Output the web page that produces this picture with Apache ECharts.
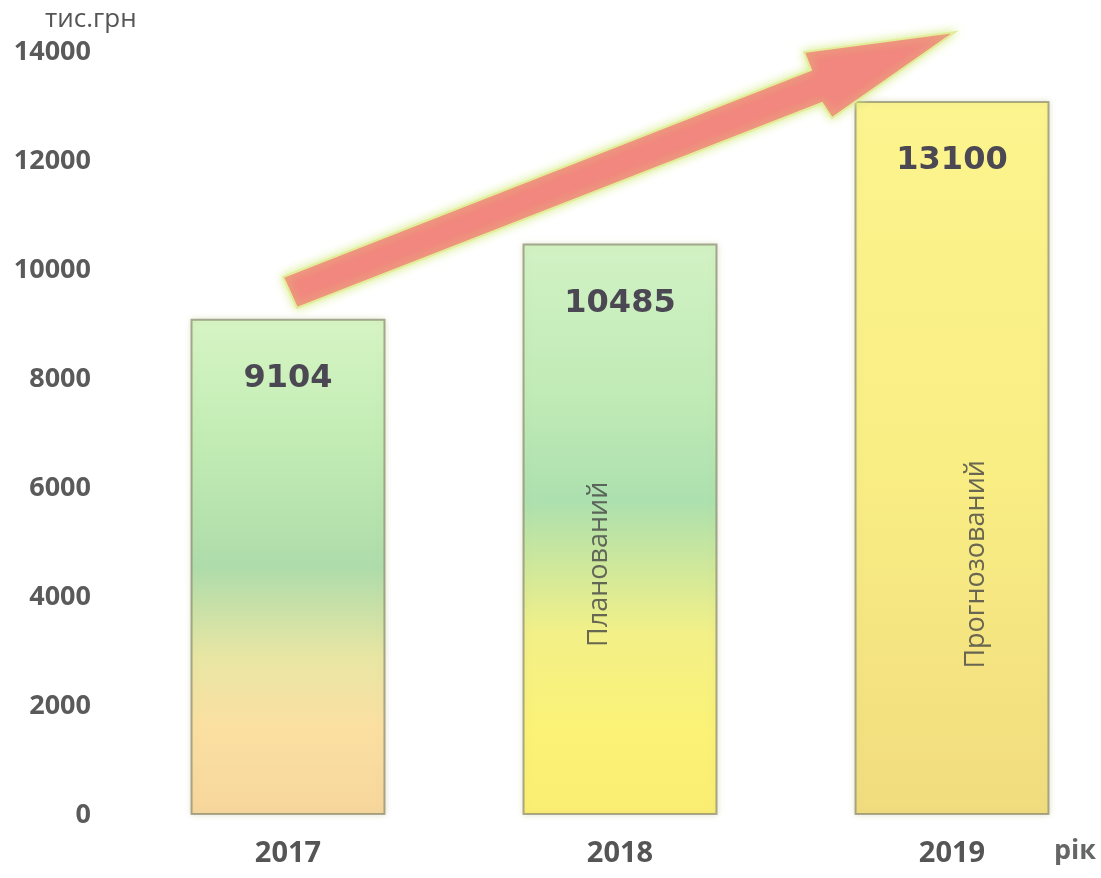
<!DOCTYPE html>
<html>
<head>
<meta charset="utf-8">
<script src="https://cdn.jsdelivr.net/npm/echarts@6/dist/echarts.min.js"></script>
<style>
html,body{margin:0;padding:0;background:#fff;}
#main{width:1101px;height:878px;}
</style>
</head>
<body>
<div id="main"></div>
<script>
const categories = ['2017', '2018', '2019'];
const values = [9104, 10485, 13100];
const barNotes = ['', 'Планований', 'Прогнозований'];
const yTicks = [0, 2000, 4000, 6000, 8000, 10000, 12000, 14000];
const unitLabel = 'тис.грн';
const xUnitLabel = 'рік';

const grads = [
  [[0,'#d6f5c4'],[0.25,'#c2ecb4'],[0.5,'#aedcaa'],[0.68,'#e8e6a4'],[0.82,'#fbe0a2'],[1,'#f7d69c']],
  [[0,'#d2f2c4'],[0.28,'#bfeab6'],[0.45,'#ace0ae'],[0.68,'#f2f088'],[0.85,'#fbf276'],[1,'#fbee72']],
  [[0,'#fcf48e'],[0.5,'#f9ee84'],[1,'#f1dc7e']]
];
const noteOffsets = [[0,0],[0,-21],[0,24]];
function lg(stops){
  return new echarts.graphic.LinearGradient(0,0,0,1, stops.map(s=>({offset:s[0],color:s[1]})));
}

const chart = echarts.init(document.getElementById('main'), null, {renderer:'canvas'});
chart.setOption({
  backgroundColor:'#ffffff',
  animation:false,
  title:{
    text: unitLabel, left: 40, top: 2,
    textStyle:{fontFamily:'Open Sans', fontSize:26, fontWeight:'normal', color:'#555'}
  },
  grid:{left:122, width:996, top:52, bottom:63, containLabel:false, outerBoundsMode:'none'},
  xAxis:{
    type:'category', data:categories,
    axisLine:{show:false}, axisTick:{show:false},
    axisLabel:{margin:24, fontFamily:'Open Sans', fontWeight:'bold', fontSize:29, color:'#555'}
  },
  yAxis:{
    type:'value', min:yTicks[0], max:yTicks[yTicks.length-1], interval:2000,
    axisLine:{show:false}, axisTick:{show:false}, splitLine:{show:false},
    axisLabel:{margin:31, formatter:v=>String(v), fontFamily:'Open Sans', fontWeight:'bold', fontSize:27, color:'#5a5a5a'}
  },
  series:[
    {
      type:'bar', barWidth:195,
      data: values.map((v,i)=>({value:v, itemStyle:{color:lg(grads[i])}})),
      itemStyle:{borderColor:'rgba(120,120,95,0.6)', borderWidth:2,
        shadowColor:'rgba(200,200,150,0.5)', shadowBlur:6},
      label:{show:true, position:'insideTop', distance:44,
        fontFamily:'DejaVu Sans', fontWeight:'bold', fontSize:32, color:'#4b4853'}
    },
    {
      type:'scatter', symbolSize:0, silent:true,
      data: barNotes.map((t,i)=>({value:[categories[i], 4600], name:t,
        label:{offset: noteOffsets[i]}})),
      label:{show:true, position:'inside', rotate:90, formatter:p=>p.name,
        fontFamily:'Open Sans', fontSize:27, color:'#454545'}
    }
  ],
  graphic:[
    {
      type:'polygon', z:10,
      shape:{points:[[283,277],[811,70],[804,52],[955,32],[832,118],[822,103],[297,308]]},
      style:{fill:'#f2877f', stroke:'#e4ec9a', lineWidth:2,
        shadowColor:'rgba(210,235,120,0.9)', shadowBlur:10}
    },
    {
      type:'text', left:1054, top:838,
      style:{text:xUnitLabel, fontFamily:'Open Sans', fontWeight:'bold', fontSize:27, fill:'#666'}
    }
  ]
});
</script>
</body>
</html>
